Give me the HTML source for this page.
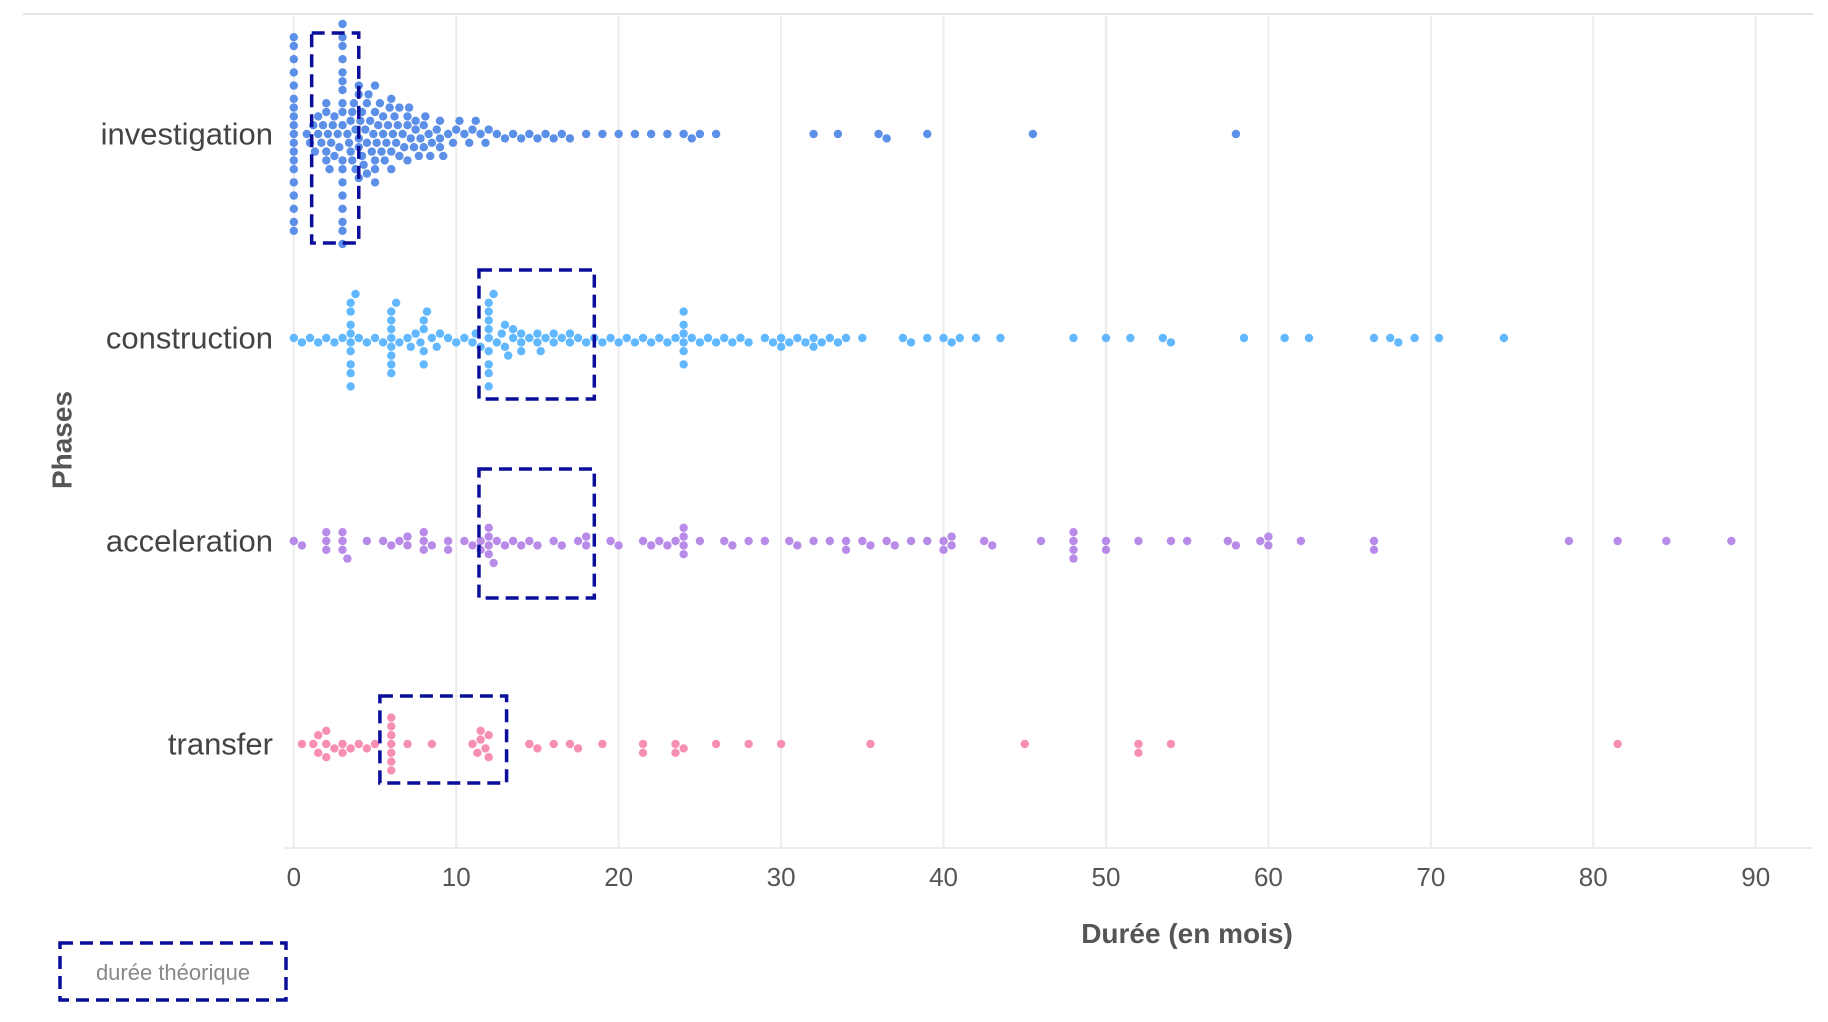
<!DOCTYPE html>
<html><head><meta charset="utf-8"><style>
html,body{margin:0;padding:0;background:#fff;}
svg{display:block;font-family:"Liberation Sans",sans-serif;}
</style></head><body>
<svg id="chart" width="1828" height="1022" viewBox="0 0 1828 1022">
<line x1="23" y1="14" x2="1813" y2="14" stroke="#e6e6e6" stroke-width="2"/>
<g id="grid"></g>
<g id="dots"></g>
<g id="boxes"></g>
<g id="ylabels"></g>
<g id="xlabels"></g>
<text x="62" y="440" transform="rotate(-90 62 440)" text-anchor="middle" dominant-baseline="central" font-size="28" font-weight="bold" fill="#555">Phases</text>
<text x="1187" y="943" text-anchor="middle" font-size="28" font-weight="bold" fill="#555">Durée (en mois)</text>
<g>
<rect x="60" y="943" width="226" height="57" fill="none" stroke="#0a0e9a" stroke-width="3.5" stroke-dasharray="13 7"/>
<text x="173" y="980" text-anchor="middle" font-size="22" fill="#888">durée théorique</text>
</g>
</svg>
<script>
const phases = ["investigation","construction","acceleration","transfer"];
const ticks = [0,10,20,30,40,50,60,70,80,90];
const investigation = [0,0,0,0,0,0,0,0,0,0,0,0,0,0,0,0,0,0,0,
0.8,1,1.2,1.5,1.5,1.8,2,2,2,2,2.2,2.3,2.5,2.5,2.7,2.8,1.3,1.7,2.1,2.4,
3,3,3,3,3,3,3,3,3,3,3,3,3,3,3,3,3,3,
3.3,3.5,3.5,3.6,3.8,3.8,4,4,4,4,4.2,4.2,4.4,4.5,4.5,4.6,4.8,5,5,5,5,5.2,5.3,5.5,5.5,5.6,5.8,
3.4,3.7,4.1,4.3,4.7,4.9,5.1,5.4,5.7,5.9,4,4.5,5,3.6,6.1,6.4,6.7,7.1,7.4,7.7,8.1,8.4,
6,6,6,6.2,6.3,6.5,6.5,6.8,7,7,7,7.2,7.5,7.5,7.8,8,8,8.3,8.5,8.8,9,9,9,9.2,9.5,9.8,
10,10.2,10.5,10.8,11,11.2,11.5,11.8,12,12.5,13,13.5,14,14.5,15,15.5,16,16.5,17,18,19,20,21,22,23,24,24.5,25,26,
32,33.5,36,36.5,39,45.5,58];
const construction = [0,0.5,1,1.5,2,2.5,3,3.5,3.5,3.5,3.5,3.5,3.5,3.5,3.5,3.5,3.8,4,4.5,5,5.5,
6,6,6,6,6,6,6,6,6.3,6.5,7,7.2,7.5,7.8,8,8,8,8,8.2,8.5,8.8,9,9.5,10,10.5,11,11.2,11.5,
12,12,12,12,12,12,12,12,12,12.3,12.5,12.8,13,13.2,13.5,14,14,14.5,15,15.2,15.5,16,16.5,17,17.5,
13,13.5,14,15,16,17,18,18.5,19,19.5,20,20.5,21,21.5,22,22.5,23,23.5,
24,24,24,24,24,24,24.5,25,25.5,26,26.5,27,27.5,28,29,29.5,30,30,30.5,31,31.5,32,32,32.5,33,33.5,34,35,
37.5,38,39,40,40.5,41,42,43.5,48,50,51.5,53.5,54,58.5,61,62.5,66.5,67.5,68,69,70.5,74.5];
const acceleration = [0,0.5,2,2,2,3,3,3,3.3,4.5,5.5,6,6.5,7,7,8,8,8,8.5,9.5,9.5,10.5,11,11.5,11.5,12,12,12,12,12.3,12.5,13,13.5,14,14.5,15,16,16.5,17.5,18,18,19.5,20,21.5,22,22.5,23,23.5,24,24,24,24,25,26.5,27,28,29,30.5,31,32,33,34,34,35,35.5,36.5,37,38,39,40,40,40.5,40.5,42.5,43,46,48,48,48,48,50,50,52,54,55,57.5,58,59.5,60,60,62,66.5,66.5,78.5,81.5,84.5,88.5];
const transfer = [0.5,1.2,1.5,1.5,2,2,2,2.5,3,3,3.5,4,4.5,5,6,6,6,6,6,6,6,7,8.5,11,11.3,11.5,11.5,11.8,12,12,14.5,15,16,17,17.5,19,21.5,21.5,23.5,23.5,24,26,28,30,35.5,45,52,52,54,81.5];
const boxStart = [1.1,11.4,11.4,5.3];
const boxEnd = [4.0,18.5,18.5,13.1];
const boxLow = [-101,-68,-72,-48];
const boxHigh = [109,61,57,39];

const series=[investigation,construction,acceleration,transfer];
const colors=["#5b8fe8","#62b8ff","#b98be8","#f78fb5"];
const x=v=>293.8+(1755.7-293.8)*v/90;
const rowY=[134,338,541,744];
const NS="http://www.w3.org/2000/svg";
function mk(tag,attrs,parent){const e=document.createElementNS(NS,tag);for(const k in attrs)e.setAttribute(k,attrs[k]);parent.appendChild(e);return e;}
const grid=document.getElementById('grid'),xl=document.getElementById('xlabels');
ticks.forEach(t=>{
 const l=mk('line',{x1:x(t),x2:x(t),y1:16,y2:848,stroke:'#ececec','stroke-width':2},grid);
 
 
 const tx=mk('text',{x:x(t),y:886,'text-anchor':'middle','font-size':26,fill:'#555'},xl);
 tx.textContent=t;
 
 
});
const base=mk('line',{x1:285,x2:1813,y1:848,y2:848,stroke:'#ececec','stroke-width':2},grid);


const yl=document.getElementById('ylabels');
phases.forEach((p,i)=>{
 const t=mk('text',{x:273,y:rowY[i],'text-anchor':'end','dominant-baseline':'central','font-size':31,fill:'#444'},yl);
 t.textContent=p;
 
 
});
const dots=document.getElementById('dots'),r=4.2,d=2*r+0.4;
series.forEach((vals,i)=>{
 const placed=[];
 vals.slice().sort((a,b)=>a-b).forEach(v=>{
  const px=x(v);let off=0;
  for(let k=0;k<200;k++){
   off=k===0?0:(k%2?1:-1)*Math.ceil(k/2)*(d*0.5);
   if(!placed.some(p=>(p[0]-px)**2+(p[1]-off)**2<d*d))break;
  }
  placed.push([px,off]);
  const c=mk('circle',{cx:px,cy:rowY[i]+off,r:r,fill:colors[i]},dots);
  
  
 });
});
const bx=document.getElementById('boxes');
phases.forEach((p,i)=>{
 const b=mk('rect',{x:x(boxStart[i]),y:rowY[i]+boxLow[i],width:x(boxEnd[i])-x(boxStart[i]),height:boxHigh[i]-boxLow[i],fill:'none',stroke:'#0a0e9a','stroke-width':3.5,'stroke-dasharray':'13 7'},bx);
 
 
});
</script>
</body></html>
